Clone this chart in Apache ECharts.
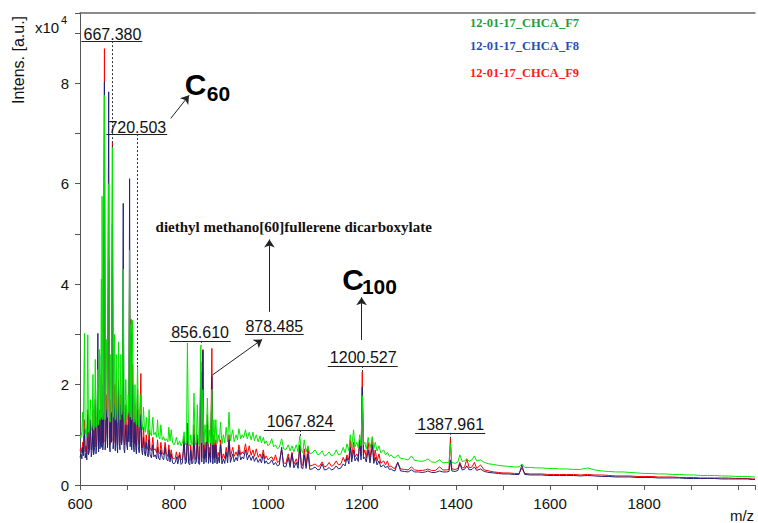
<!DOCTYPE html>
<html>
<head>
<meta charset="utf-8">
<script src="https://cdn.jsdelivr.net/npm/echarts@6/dist/echarts.min.js"></script>
<style>
  html, body { margin: 0; padding: 0; background: #fff; }
  #chart { width: 758px; height: 523px; }
</style>
</head>
<body>
<div id="chart"></div>
<script>
// m/z grid shared by the three spectra
const mz = [
  600, 602, 604, 605.5, 607, 609.5, 611, 613,
  614.5, 616.5, 618, 620, 622, 624, 626, 627.5,
  629, 631, 632.5, 634, 636, 638, 639.5, 641,
  642.5, 644, 645.5, 646.3, 647, 648.5, 650, 652,
  653.5, 655, 656.8, 658.5, 661, 662.5, 664, 665.5,
  667, 669, 670.5, 672, 673.5, 675, 677, 678.5,
  680, 682, 683.5, 685, 687, 688.5, 690, 692,
  693.5, 695, 697.5, 699, 701, 702.5, 704, 705.5,
  706.8, 708.5, 710, 712, 713.5, 715, 717, 718.5,
  720, 722.5, 724, 726, 729.5, 731, 733, 735,
  737, 739, 741, 743, 745, 747, 749, 752,
  755, 757, 760, 763, 765, 767, 770, 772,
  775, 778, 781, 784, 787, 789, 791.5, 794,
  797, 800, 803, 805, 808, 812, 815, 818,
  821.5, 824, 826.5, 828.5, 831, 833.5, 835.5, 838,
  840, 842.5, 845, 847.5, 849.5, 852, 854.5, 857,
  859, 861.5, 863.5, 866, 868.5, 871, 873.5, 876,
  878, 880.5, 882.5, 885, 887, 889, 891.5, 894,
  896.5, 899, 902, 905, 908, 911, 914, 917,
  920, 925, 928, 932, 935, 938, 942, 945,
  948, 952, 956, 960, 964, 968, 971, 975,
  979, 983, 986, 990, 993, 996, 1000, 1004,
  1008, 1012, 1016, 1020, 1024, 1029, 1033, 1038,
  1043, 1047, 1051, 1055, 1060, 1064, 1067.5, 1071,
  1074, 1077, 1081, 1085, 1089, 1094, 1100, 1106,
  1110, 1115, 1120, 1125, 1130, 1135, 1140, 1145,
  1150, 1155, 1160, 1164, 1168, 1172, 1175, 1178,
  1182, 1185, 1189, 1192, 1195, 1198, 1200.5, 1203,
  1206, 1209, 1213, 1217, 1222, 1225, 1228, 1232,
  1236, 1240, 1246, 1250, 1254, 1258, 1262, 1266,
  1270, 1276, 1282, 1290, 1298, 1305, 1312, 1320,
  1328, 1335, 1340, 1348, 1356, 1365, 1372, 1380,
  1385, 1388, 1391, 1398, 1404, 1408, 1413, 1418,
  1423, 1428, 1434, 1439, 1444, 1452, 1460, 1470,
  1480, 1490, 1500, 1512, 1524, 1534, 1540, 1546,
  1558, 1570, 1582, 1595, 1608, 1620, 1635, 1650,
  1665, 1680, 1695, 1710, 1725, 1740, 1755, 1770,
  1785, 1800, 1815, 1830, 1845, 1860, 1875, 1890,
  1905, 1920, 1935, 1950, 1965, 1980, 1995, 2010,
  2020, 2030, 2036
];

// intensities, x10^4 a.u.
const f7 = [ // green
  1.00, 0.94, 1.06, 1.45, 0.98, 3.02, 1.02, 1.12,
  0.96, 2.99, 1.05, 1.14, 1.70, 1.08, 1.18, 2.20,
  1.10, 1.22, 2.50, 1.15, 1.28, 2.30, 1.20, 2.70,
  1.30, 1.42, 4.10, 1.35, 5.75, 1.30, 1.45, 7.76,
  1.30, 1.50, 2.90, 1.35, 6.00, 1.40, 1.25, 2.60,
  1.45, 6.72, 1.35, 1.50, 3.00, 1.30, 2.60, 1.40,
  1.25, 2.85, 1.45, 1.30, 2.60, 1.40, 1.50, 4.30,
  1.35, 1.25, 2.10, 1.40, 1.30, 1.80, 1.45, 4.68,
  1.35, 3.20, 1.30, 3.28, 1.40, 1.25, 2.00, 1.30,
  1.20, 2.39, 1.30, 1.15, 1.80, 1.25, 1.10, 1.55,
  1.15, 1.05, 1.35, 1.10, 1.00, 1.50, 1.05, 0.98,
  1.35, 1.00, 1.05, 0.95, 1.30, 0.98, 0.92, 1.20,
  0.90, 0.96, 0.88, 0.92, 0.86, 1.15, 0.88, 1.10,
  0.84, 0.80, 0.86, 0.95, 0.80, 0.88, 0.78, 0.84,
  1.06, 0.80, 0.86, 2.83, 0.82, 0.78, 1.00, 0.80,
  0.84, 1.83, 0.80, 0.86, 1.60, 0.82, 0.78, 2.78,
  0.84, 1.90, 0.80, 1.20, 0.86, 1.73, 0.82, 1.10,
  0.84, 1.90, 0.80, 1.30, 0.85, 1.30, 0.82, 1.00,
  0.86, 1.25, 0.82, 1.00, 0.84, 1.15, 0.86, 1.45,
  0.88, 1.10, 0.86, 1.00, 0.90, 1.12, 0.92, 1.00,
  0.94, 1.10, 0.92, 1.05, 0.90, 1.05, 0.88, 1.00,
  0.86, 0.98, 0.84, 0.95, 0.82, 0.88, 0.78, 0.82,
  0.92, 0.76, 0.80, 0.72, 0.75, 0.92, 0.72, 0.70,
  0.80, 0.68, 0.78, 0.66, 0.80, 0.66, 0.97, 0.68,
  0.64, 0.90, 0.66, 0.78, 0.62, 0.64, 0.70, 0.60,
  0.62, 0.68, 0.58, 0.60, 0.66, 0.58, 0.60, 0.70,
  0.60, 0.62, 0.75, 0.64, 0.82, 0.68, 1.00, 0.74,
  1.10, 0.76, 0.85, 0.74, 1.00, 0.78, 1.78, 0.80,
  0.85, 0.72, 0.95, 0.74, 0.95, 0.72, 0.85, 0.68,
  0.78, 0.64, 0.70, 0.60, 0.65, 0.57, 0.60, 0.55,
  0.54, 0.60, 0.53, 0.52, 0.50, 0.58, 0.49, 0.48,
  0.47, 0.49, 0.52, 0.46, 0.45, 0.50, 0.44, 0.45,
  0.44, 0.83, 0.45, 0.43, 0.46, 0.60, 0.47, 0.48,
  0.52, 0.47, 0.50, 0.58, 0.48, 0.50, 0.45, 0.42,
  0.41, 0.39, 0.38, 0.37, 0.36, 0.36, 0.42, 0.35,
  0.35, 0.34, 0.34, 0.33, 0.33, 0.32, 0.32, 0.31,
  0.31, 0.34, 0.30, 0.28, 0.27, 0.26, 0.26, 0.25,
  0.24, 0.23, 0.23, 0.22, 0.22, 0.21, 0.21, 0.20,
  0.20, 0.19, 0.19, 0.19, 0.18, 0.18, 0.17, 0.17,
  0.17, 0.16, 0.16
];

const f8 = [ // blue
  0.55, 0.62, 0.52, 0.75, 0.58, 1.10, 0.54, 0.64,
  0.50, 1.40, 0.60, 0.68, 1.30, 0.56, 0.72, 1.20,
  0.60, 0.74, 1.60, 0.62, 0.80, 3.02, 0.66, 1.30,
  0.72, 0.86, 2.60, 0.75, 2.00, 0.70, 0.88, 8.03,
  0.70, 0.90, 1.50, 0.74, 7.83, 0.80, 0.66, 1.40,
  0.85, 5.20, 0.72, 0.90, 1.60, 0.68, 1.50, 0.82,
  0.64, 2.00, 0.86, 0.70, 1.60, 0.80, 0.92, 5.61,
  0.72, 0.64, 1.20, 0.84, 0.70, 1.20, 0.86, 6.10,
  0.76, 3.00, 0.70, 2.00, 0.82, 0.66, 1.30, 0.74,
  0.62, 1.50, 0.76, 0.64, 1.40, 0.72, 0.60, 0.95,
  0.66, 0.58, 0.85, 0.62, 0.56, 0.90, 0.60, 0.54,
  0.80, 0.56, 0.60, 0.52, 0.75, 0.54, 0.50, 0.70,
  0.55, 0.50, 0.75, 0.52, 0.48, 0.70, 0.46, 0.62,
  0.44, 0.42, 0.46, 0.56, 0.42, 0.60, 0.41, 0.44,
  0.96, 0.42, 0.46, 1.23, 0.43, 0.40, 0.70, 0.42,
  0.44, 1.00, 0.42, 0.46, 0.90, 0.43, 0.41, 2.25,
  0.46, 2.68, 0.42, 0.70, 0.45, 1.20, 0.43, 0.65,
  0.45, 2.16, 0.42, 0.80, 0.44, 0.80, 0.42, 0.55,
  0.44, 0.80, 0.42, 0.52, 0.43, 0.65, 0.44, 0.90,
  0.45, 0.62, 0.46, 0.55, 0.48, 0.70, 0.50, 0.56,
  0.52, 0.70, 0.50, 0.60, 0.49, 0.58, 0.47, 0.55,
  0.45, 0.52, 0.44, 0.62, 0.43, 0.48, 0.42, 0.44,
  0.50, 0.40, 0.45, 0.38, 0.40, 0.75, 0.37, 0.36,
  0.55, 0.35, 0.62, 0.34, 0.45, 0.33, 0.78, 0.34,
  0.32, 0.60, 0.33, 0.62, 0.31, 0.32, 0.36, 0.30,
  0.31, 0.42, 0.30, 0.31, 0.35, 0.30, 0.32, 0.38,
  0.32, 0.34, 0.42, 0.38, 0.55, 0.42, 0.75, 0.46,
  0.70, 0.48, 0.55, 0.47, 0.90, 0.50, 1.95, 0.52,
  0.55, 0.46, 0.70, 0.44, 0.80, 0.43, 0.55, 0.40,
  0.48, 0.36, 0.40, 0.34, 0.38, 0.31, 0.32, 0.29,
  0.28, 0.45, 0.28, 0.27, 0.26, 0.30, 0.26, 0.26,
  0.25, 0.26, 0.28, 0.25, 0.25, 0.28, 0.26, 0.26,
  0.27, 0.50, 0.28, 0.27, 0.29, 0.42, 0.30, 0.31,
  0.38, 0.30, 0.31, 0.36, 0.29, 0.32, 0.27, 0.25,
  0.24, 0.23, 0.22, 0.22, 0.21, 0.21, 0.40, 0.21,
  0.20, 0.20, 0.20, 0.19, 0.19, 0.19, 0.19, 0.19,
  0.18, 0.19, 0.18, 0.17, 0.17, 0.16, 0.16, 0.16,
  0.15, 0.15, 0.15, 0.14, 0.14, 0.14, 0.14, 0.13,
  0.13, 0.13, 0.13, 0.13, 0.12, 0.12, 0.12, 0.12,
  0.12, 0.11, 0.11
];

const f9 = [ // red
  0.68, 0.74, 0.64, 0.85, 0.70, 1.30, 0.66, 0.78,
  0.62, 1.50, 0.72, 0.82, 1.20, 0.70, 0.86, 1.50,
  0.74, 0.88, 1.70, 0.76, 0.94, 2.00, 0.80, 1.50,
  0.86, 1.00, 2.20, 0.90, 1.80, 0.84, 1.02, 8.69,
  0.86, 1.05, 1.80, 0.90, 4.50, 0.95, 0.80, 1.70,
  1.00, 6.85, 0.88, 1.05, 2.00, 0.84, 2.00, 0.98,
  0.80, 2.10, 1.00, 0.85, 1.80, 0.95, 1.05, 2.30,
  0.88, 0.80, 1.60, 1.00, 0.85, 1.40, 1.00, 4.30,
  0.92, 3.30, 0.85, 2.40, 0.98, 0.82, 1.60, 0.90,
  0.78, 1.90, 0.92, 0.80, 2.22, 0.86, 0.74, 1.15,
  0.80, 0.72, 1.00, 0.76, 0.70, 1.10, 0.74, 0.68,
  0.95, 0.70, 0.72, 0.64, 0.90, 0.66, 0.62, 0.85,
  0.64, 0.60, 0.85, 0.62, 0.57, 0.80, 0.55, 0.70,
  0.53, 0.52, 0.55, 0.66, 0.51, 0.65, 0.50, 0.53,
  0.80, 0.50, 0.55, 1.00, 0.52, 0.49, 0.80, 0.51,
  0.54, 1.20, 0.51, 0.55, 1.00, 0.52, 0.50, 2.45,
  0.55, 2.70, 0.52, 0.85, 0.54, 1.40, 0.52, 0.75,
  0.55, 2.72, 0.52, 1.00, 0.54, 0.90, 0.52, 0.65,
  0.54, 0.90, 0.52, 0.62, 0.53, 0.75, 0.55, 1.00,
  0.56, 0.75, 0.57, 0.66, 0.58, 0.80, 0.60, 0.66,
  0.62, 0.82, 0.60, 0.78, 0.59, 0.70, 0.57, 0.72,
  0.55, 0.62, 0.53, 0.70, 0.52, 0.58, 0.50, 0.54,
  0.56, 0.48, 0.60, 0.45, 0.47, 0.70, 0.44, 0.43,
  0.62, 0.42, 0.65, 0.41, 0.52, 0.40, 0.80, 0.41,
  0.39, 0.72, 0.40, 0.76, 0.38, 0.39, 0.42, 0.37,
  0.38, 0.46, 0.36, 0.38, 0.45, 0.37, 0.40, 0.48,
  0.40, 0.42, 0.55, 0.46, 0.60, 0.50, 0.90, 0.55,
  0.85, 0.56, 0.62, 0.55, 0.85, 0.58, 2.25, 0.60,
  0.70, 0.54, 0.85, 0.52, 0.96, 0.50, 0.70, 0.47,
  0.62, 0.43, 0.48, 0.40, 0.48, 0.36, 0.38, 0.34,
  0.33, 0.45, 0.32, 0.31, 0.30, 0.36, 0.30, 0.29,
  0.29, 0.30, 0.32, 0.29, 0.29, 0.36, 0.30, 0.30,
  0.31, 0.93, 0.32, 0.31, 0.33, 0.45, 0.34, 0.35,
  0.52, 0.34, 0.36, 0.45, 0.33, 0.40, 0.30, 0.28,
  0.26, 0.25, 0.24, 0.24, 0.23, 0.23, 0.34, 0.23,
  0.22, 0.22, 0.22, 0.21, 0.21, 0.21, 0.21, 0.21,
  0.20, 0.21, 0.20, 0.20, 0.19, 0.18, 0.18, 0.18,
  0.17, 0.17, 0.17, 0.16, 0.16, 0.16, 0.15, 0.15,
  0.15, 0.14, 0.14, 0.14, 0.14, 0.14, 0.13, 0.13,
  0.13, 0.12, 0.12
];

const sampleNames = ['12-01-17_CHCA_F7', '12-01-17_CHCA_F8', '12-01-17_CHCA_F9'];

// peak labels (m/z text) placed in data coordinates
const peakLabels = [
  { text: '667.380', mz: 669, y: 8.97, ulFrom: 603, ulTo: 732.5, ulY: 8.84, leadMz: 669.4, leadTo: 6.7 },
  { text: '720.503', mz: 722, y: 7.12, ulFrom: 656, ulTo: 785.5, ulY: 6.99, leadMz: 721.5, leadTo: 2.35 },
  { text: '856.610', mz: 855.5, y: 3.04, ulFrom: 791, ulTo: 920.5, ulY: 2.87, leadMz: 857, leadTo: 2.78 },
  { text: '878.485', mz: 1013.4, y: 3.16, ulFrom: 951, ulTo: 1076, ulY: 3.0 },
  { text: '1067.824', mz: 1068, y: 1.26, ulFrom: 991, ulTo: 1143, ulY: 1.095, leadMz: 1067.5, leadTo: 0.97 },
  { text: '1200.527', mz: 1202.5, y: 2.54, ulFrom: 1127, ulTo: 1276, ulY: 2.37, leadMz: 1201, leadTo: 2.25 },
  { text: '1387.961', mz: 1388.6, y: 1.21, ulFrom: 1313, ulTo: 1462, ulY: 1.04, leadMz: 1388, leadTo: 0.93 }
];

const arrows = [
  [[793, 7.30], [832, 7.76]],
  [[881.6, 2.19], [987.5, 2.90]],
  [[1003, 3.45], [1003, 4.89]],
  [[1199, 2.89], [1199, 3.74]]
];

const bigLabels = [
  { text: 'C', mz: 846, y: 7.97, size: 30 },
  { text: '60', mz: 894.7, y: 7.80, size: 21 },
  { text: 'C', mz: 1181, y: 4.10, size: 30 },
  { text: '100', mz: 1237, y: 3.96, size: 21 }
];

const sans = 'Liberation Sans';
const serif = 'Liberation Serif';

const lineData = [];
peakLabels.forEach(p => {
  lineData.push([{ coord: [p.ulFrom, p.ulY] }, { coord: [p.ulTo, p.ulY] }]);
  if (p.leadMz) {
    lineData.push([
      { coord: [p.leadMz, p.ulY], lineStyle: { type: [2, 2], color: '#333' } },
      { coord: [p.leadMz, p.leadTo] }
    ]);
  }
});
arrows.forEach(a => {
  lineData.push([
    { coord: a[0], symbol: 'none' },
    { coord: a[1], symbol: 'arrow', symbolSize: 8 }
  ]);
});

const pointData = [];
peakLabels.forEach(p => {
  pointData.push({
    name: p.text, coord: [p.mz, p.y],
    label: { fontSize: 16, fontFamily: sans, color: '#111' }
  });
});
bigLabels.forEach(b => {
  pointData.push({
    name: b.text, coord: [b.mz, b.y],
    label: { fontSize: b.size, fontWeight: 'bold', fontFamily: sans, color: '#000' }
  });
});
pointData.push({
  name: 'diethyl methano[60]fullerene dicarboxylate', coord: [1054.7, 5.13],
  label: { fontSize: 15, fontWeight: 'bold', fontFamily: serif, color: '#111' }
});

const chart = echarts.init(document.getElementById('chart'), null, { renderer: 'svg' });

if (mz.length !== f7.length || mz.length !== f8.length || mz.length !== f9.length) {
  console.error('length mismatch', mz.length, f7.length, f8.length, f9.length);
}

const spectrum = (vals) => mz.map((m, i) => [m, vals[i]]);

chart.setOption({
  animation: false,
  grid: { left: 80, right: 0, top: 13, bottom: 38 },
  xAxis: [
    {
      type: 'value', min: 600, max: 2036, interval: 100,
      axisLine: { show: true, lineStyle: { color: '#555' } },
      axisTick: { show: true, length: 5, lineStyle: { color: '#555' } },
      axisLabel: {
        margin: 11, fontSize: 15, fontFamily: sans, color: '#111',
        formatter: v => (v % 200 === 0 && v < 2000) ? String(v) : ''
      },
      splitLine: { show: false }
    },
    {
      type: 'value', position: 'top', min: 600, max: 2036,
      axisLine: { show: true, lineStyle: { color: '#666', width: 1.5 } },
      axisTick: { show: false }, axisLabel: { show: false }, splitLine: { show: false }
    }
  ],
  yAxis: {
    type: 'value', min: 0, max: 9.4, interval: 1,
    axisLine: { show: true, lineStyle: { color: '#555' } },
    axisTick: { show: true, length: 5, lineStyle: { color: '#555' } },
    axisLabel: {
      margin: 11, fontSize: 15, fontFamily: sans, color: '#111',
      formatter: v => (v % 2 === 0 && v <= 8) ? String(v) : ''
    },
    splitLine: { show: false }
  },
  graphic: [
    { type: 'text', x: 18, y: 60, rotation: Math.PI / 2,
      style: { text: 'Intens. [a.u.]', fontSize: 16, fontFamily: sans, fill: '#111', align: 'center', verticalAlign: 'middle' } },
    { type: 'text', x: 35, y: 27,
      style: { text: 'x10', fontSize: 15, fontFamily: sans, fill: '#111', align: 'left', verticalAlign: 'middle' } },
    { type: 'text', x: 61, y: 20,
      style: { text: '4', fontSize: 11, fontFamily: sans, fill: '#111', align: 'left', verticalAlign: 'middle' } },
    { type: 'text', x: 742, y: 515,
      style: { text: 'm/z', fontSize: 15, fontFamily: sans, fill: '#111', align: 'center', verticalAlign: 'middle' } },
    { type: 'text', x: 470, y: 23,
      style: { text: sampleNames[0], fontSize: 12.5, fontWeight: 'bold', fontFamily: serif, fill: '#1e9e3c', align: 'left', verticalAlign: 'middle' } },
    { type: 'text', x: 470, y: 46,
      style: { text: sampleNames[1], fontSize: 12.5, fontWeight: 'bold', fontFamily: serif, fill: '#1f50b4', align: 'left', verticalAlign: 'middle' } },
    { type: 'text', x: 470, y: 73,
      style: { text: sampleNames[2], fontSize: 12.5, fontWeight: 'bold', fontFamily: serif, fill: '#ff1a1a', align: 'left', verticalAlign: 'middle' } }
  ],
  series: [
    { name: sampleNames[2], type: 'line', data: spectrum(f9), showSymbol: false, silent: true,
      lineStyle: { color: '#ff0000', width: 1 } },
    { name: sampleNames[1], type: 'line', data: spectrum(f8), showSymbol: false, silent: true,
      lineStyle: { color: '#22227a', width: 1 } },
    { name: sampleNames[0], type: 'line', data: spectrum(f7), showSymbol: false, silent: true,
      lineStyle: { color: '#00e600', width: 1 } },
    {
      name: 'annotations', type: 'scatter', data: [], z: 5, silent: true,
      markLine: {
        silent: true, symbol: ['none', 'none'], label: { show: false },
        lineStyle: { color: '#222', width: 1, type: 'solid' },
        emphasis: { disabled: true },
        data: lineData
      },
      markPoint: {
        silent: true, symbol: 'rect', symbolSize: 1,
        itemStyle: { color: 'rgba(0,0,0,0)' },
        label: { show: true, position: 'inside', formatter: '{b}' },
        data: pointData
      }
    }
  ]
});
</script>
</body>
</html>
